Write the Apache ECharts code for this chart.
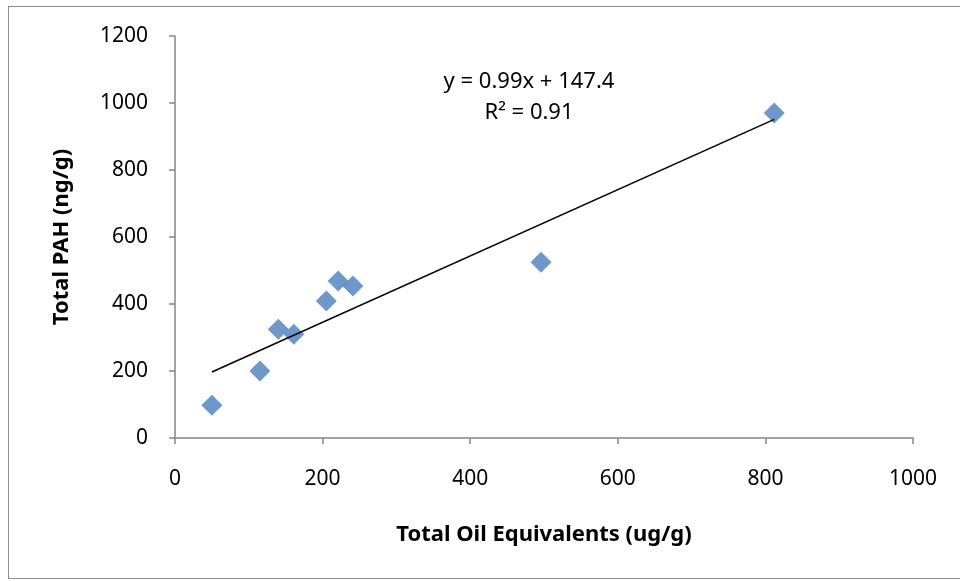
<!DOCTYPE html>
<html>
<head>
<meta charset="utf-8">
<script src="https://cdn.jsdelivr.net/npm/echarts@6/dist/echarts.min.js"></script>
<style>
html,body{margin:0;padding:0;background:#fff;overflow:hidden;}
#frame{position:absolute;left:8px;top:6px;width:960px;height:573px;border:1.5px solid #8c8c8c;box-sizing:border-box;}
#chart{position:absolute;left:0;top:0;width:960px;height:581px;}
</style>
</head>
<body>
<div id="frame"></div>
<div id="chart"></div>
<script>
// Data
const oilEquivalents = [50, 115, 140, 161, 205, 221, 241, 496, 812];
const totalPAH       = [98, 200, 325, 310, 409, 469, 454, 525, 970];
// Linear trendline as stated in the chart: y = 0.99x + 147.4 (drawn from min to max x)
const trendX = [50, 812];
const trendY = [197, 951];
const xTicks = [0, 200, 400, 600, 800, 1000];
const yTicks = [0, 200, 400, 600, 800, 1000, 1200];
const equationText = 'y = 0.99x + 147.4';
const r2Text = 'R² = 0.91';
const xTitle = 'Total Oil Equivalents (ug/g)';
const yTitle = 'Total PAH (ng/g)';

const FONT = 'Noto Sans';
const chart = echarts.init(document.getElementById('chart'), null, {renderer: 'canvas'});
const axisGray = '#868686';
chart.setOption({
  animation: false,
  backgroundColor: 'transparent',
  grid: {left: 175, right: 47, top: 36, bottom: 143, containLabel: false},
  xAxis: {
    type: 'value', min: xTicks[0], max: xTicks[xTicks.length - 1], interval: 200,
    axisLine: {show: true, onZero: false, lineStyle: {color: axisGray, width: 1.5}},
    axisTick: {show: true, inside: false, length: 6, lineStyle: {color: axisGray, width: 1.5}},
    splitLine: {show: false},
    axisLabel: {color: '#000', fontFamily: FONT, fontSize: 21, margin: 31, formatter: v => String(v)},
    name: xTitle, nameLocation: 'middle', nameGap: 86,
    nameTextStyle: {color: '#000', fontFamily: FONT, fontSize: 22, fontWeight: 'bold'}
  },
  yAxis: {
    type: 'value', min: yTicks[0], max: yTicks[yTicks.length - 1], interval: 200,
    axisLine: {show: true, onZero: false, lineStyle: {color: axisGray, width: 1.5}},
    axisTick: {show: true, inside: false, length: 6, lineStyle: {color: axisGray, width: 1.5}},
    splitLine: {show: false},
    axisLabel: {color: '#000', fontFamily: FONT, fontSize: 21, margin: 27, formatter: v => String(v)},
    name: yTitle, nameLocation: 'middle', nameGap: 102, nameRotate: 90,
    nameTextStyle: {color: '#000', fontFamily: FONT, fontSize: 22, fontWeight: 'bold'}
  },
  series: [
    {
      type: 'line', data: trendX.map((x, i) => [x, trendY[i]]),
      symbol: 'none', lineStyle: {color: '#000', width: 1.5}, z: 3, silent: true
    },
    {
      type: 'scatter', data: oilEquivalents.map((x, i) => [x, totalPAH[i]]),
      symbol: 'diamond', symbolSize: 21,
      itemStyle: {color: '#4a7ebb', borderColor: '#4a7ebb', borderWidth: 0}, z: 2
    }
  ],
  graphic: [
    {type: 'text', x: 529, y: 82, style: {text: equationText, fill: '#000', font: '22px "' + FONT + '"', align: 'center', verticalAlign: 'middle'}},
    {type: 'text', x: 529, y: 113, style: {text: r2Text, fill: '#000', font: '22px "' + FONT + '"', align: 'center', verticalAlign: 'middle'}}
  ]
});
</script>
</body>
</html>
